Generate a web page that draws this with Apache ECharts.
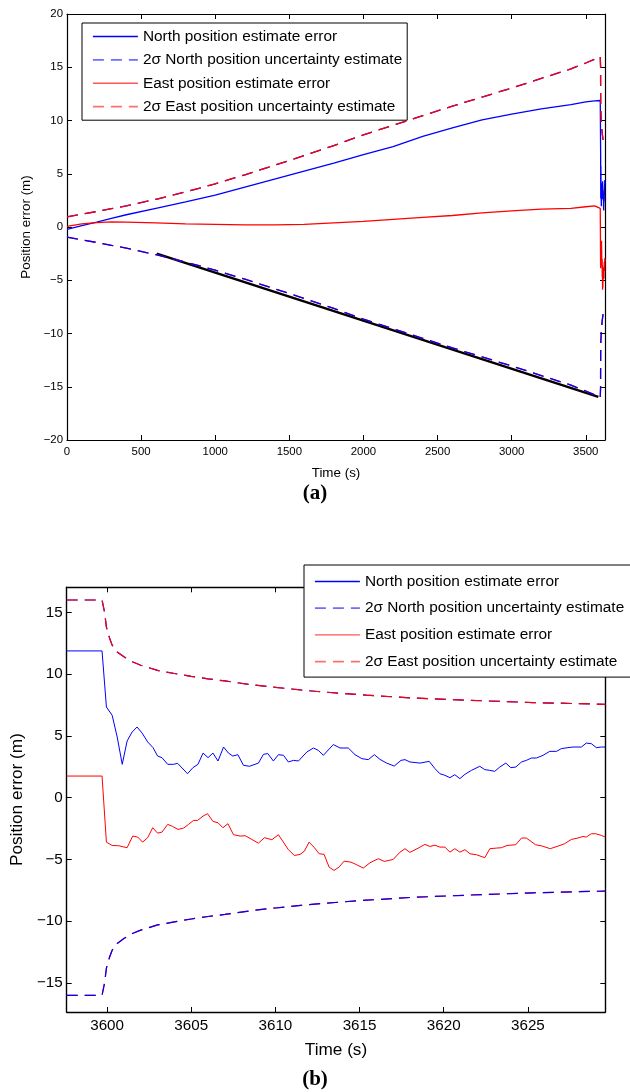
<!DOCTYPE html>
<html>
<head>
<meta charset="utf-8">
<script src="https://cdn.jsdelivr.net/npm/echarts@6/dist/echarts.min.js"></script>
<style>
  html, body { margin: 0; padding: 0; background: #ffffff; }
  #chart { width: 630px; height: 1092px; }
</style>
</head>
<body>
<div id="chart"></div>
<script>
// ---- Full run (0 .. 3600 s), position estimate errors and 2-sigma bounds ----
const longTime  = [0, 100, 200, 300, 400, 600, 800, 1000, 1200, 1400, 1600, 1800, 2000, 2200, 2400, 2600, 2800, 3000, 3200, 3400, 3500, 3560, 3597.6];
const northLong = [-0.22, 0.12, 0.45, 0.8, 1.15, 1.75, 2.35, 3.0, 3.75, 4.5, 5.25, 6.0, 6.8, 7.55, 8.5, 9.3, 10.05, 10.6, 11.1, 11.5, 11.75, 11.85, 11.88];
const eastLong  = [0.05, 0.3, 0.42, 0.48, 0.45, 0.38, 0.3, 0.25, 0.2, 0.2, 0.25, 0.38, 0.52, 0.72, 0.9, 1.08, 1.32, 1.52, 1.68, 1.75, 1.9, 1.98, 1.75];
// North and East 2-sigma uncertainties coincide
const sigmaLong = [0.95, 1.2, 1.45, 1.72, 1.98, 2.6, 3.3, 4.05, 4.9, 5.8, 6.7, 7.65, 8.65, 9.55, 10.45, 11.35, 12.2, 13.05, 13.95, 14.85, 15.4, 15.75, 16.0];

// straight reference line drawn under the lower bound
const driftLine = [[605, -2.5], [3585, -15.95]];

// ---- Last half minute (GNSS back at ~3600 s), [time, value] ----
const northDetail = [
  [3597.6, 11.88], [3599.7, 11.88], [3599.96, 7.34], [3600.3, 6.67], [3600.6, 4.91], [3600.9, 2.70],
  [3601.19, 4.59], [3601.49, 5.32], [3601.78, 5.72], [3602.08, 5.23], [3602.41, 4.51], [3602.73, 4.05],
  [3603.0, 3.37], [3603.26, 3.24], [3603.6, 2.70], [3603.95, 2.70], [3604.19, 2.78], [3604.51, 2.32],
  [3604.78, 1.94], [3605.1, 2.43], [3605.4, 2.70], [3605.7, 3.61], [3606.0, 3.24], [3606.29, 3.61],
  [3606.59, 2.97], [3606.92, 4.10], [3607.21, 3.61], [3607.47, 3.37], [3607.77, 3.48], [3608.1, 2.62],
  [3608.46, 2.54], [3608.99, 2.80], [3609.29, 3.51], [3609.55, 3.57], [3609.88, 2.97], [3610.18, 3.48],
  [3610.48, 3.43], [3610.77, 2.89], [3611.07, 3.02], [3611.37, 2.97], [3611.87, 3.70], [3612.26, 4.02],
  [3612.55, 3.83], [3612.85, 3.43], [3613.44, 4.30], [3613.84, 4.02], [3614.33, 4.02], [3614.73, 3.48],
  [3615.13, 3.16], [3615.52, 3.08], [3615.88, 3.48], [3616.21, 3.10], [3616.61, 2.80], [3617.06, 2.56],
  [3617.46, 3.02], [3617.7, 3.08], [3617.99, 2.89], [3618.59, 2.80], [3619.14, 2.94], [3619.48, 2.35],
  [3619.77, 1.94], [3620.07, 1.81], [3620.37, 1.62], [3620.66, 1.86], [3620.96, 1.54], [3621.26, 1.89],
  [3621.65, 2.21], [3622.14, 2.54], [3622.44, 2.27], [3622.74, 2.21], [3623.03, 2.13], [3623.33, 2.48],
  [3623.69, 2.80], [3623.98, 2.43], [3624.28, 2.48], [3624.62, 2.89], [3624.91, 3.02], [3625.21, 3.21],
  [3625.51, 3.21], [3625.9, 3.43], [3626.3, 3.75], [3626.7, 3.75], [3626.99, 3.97], [3627.38, 4.05],
  [3627.68, 4.10], [3628.18, 4.10], [3628.47, 4.42], [3628.77, 4.37], [3629.07, 4.05], [3629.36, 4.10],
  [3629.6, 4.10]
];
const eastDetail = [
  [3597.6, 1.75], [3599.7, 1.75], [3599.96, -3.60], [3600.3, -3.87], [3600.69, -3.89], [3601.19, -4.05],
  [3601.52, -3.11], [3601.82, -3.19], [3602.11, -3.60], [3602.41, -3.24], [3602.71, -2.43], [3603.0, -2.87],
  [3603.26, -2.79], [3603.6, -2.16], [3603.89, -2.33], [3604.21, -2.57], [3604.55, -2.46], [3604.84, -2.16],
  [3605.14, -1.84], [3605.38, -1.84], [3605.7, -1.49], [3605.97, -1.30], [3606.29, -1.92], [3606.59, -2.03],
  [3606.88, -2.43], [3607.18, -2.11], [3607.51, -3.00], [3607.91, -3.11], [3608.21, -3.08], [3608.6, -3.38],
  [3608.99, -3.68], [3609.35, -3.24], [3609.79, -3.40], [3610.18, -3.00], [3610.77, -4.21], [3611.13, -4.68],
  [3611.47, -4.59], [3611.72, -4.33], [3612.0, -3.60], [3612.32, -4.05], [3612.6, -4.54], [3612.89, -4.59],
  [3613.19, -5.62], [3613.48, -5.89], [3613.78, -5.62], [3614.08, -5.14], [3614.49, -5.22], [3614.83, -5.43],
  [3615.22, -5.70], [3615.62, -5.27], [3616.11, -4.94], [3616.47, -5.16], [3617.0, -5.00], [3617.4, -4.41],
  [3617.7, -4.13], [3617.99, -4.43], [3618.49, -4.08], [3618.88, -3.78], [3619.18, -3.95], [3619.48, -3.85],
  [3619.77, -4.00], [3620.07, -4.00], [3620.37, -4.41], [3620.66, -4.13], [3620.96, -4.41], [3621.26, -4.21],
  [3621.56, -4.54], [3621.95, -4.62], [3622.44, -4.86], [3622.74, -4.13], [3623.14, -4.08], [3623.43, -4.05],
  [3623.76, -3.87], [3624.28, -3.81], [3624.62, -3.27], [3624.91, -3.27], [3625.46, -3.81], [3625.86, -3.92],
  [3626.33, -4.13], [3626.79, -3.92], [3627.18, -3.73], [3627.58, -3.38], [3627.97, -3.27], [3628.27, -3.14],
  [3628.47, -3.19], [3628.77, -2.92], [3629.03, -2.92], [3629.36, -3.05], [3629.6, -3.19]
];
const sigmaDetail = [
  [3597.6, 16.0], [3599.7, 16.0], [3599.85, 15.0], [3599.96, 13.8], [3600.15, 12.9], [3600.3, 12.35],
  [3600.6, 11.8], [3601.0, 11.4], [3601.5, 11.0], [3602.0, 10.72], [3603.0, 10.3], [3604.0, 10.05],
  [3605.0, 9.82], [3606.0, 9.62], [3607.0, 9.45], [3608.7, 9.12], [3610.0, 8.93], [3611.5, 8.72],
  [3612.7, 8.57], [3615.4, 8.3], [3618.0, 8.08], [3621.4, 7.89], [3625.3, 7.7], [3629.6, 7.56]
];

// ---- Axis ticks ----
const topXTicks = [0, 500, 1000, 1500, 2000, 2500, 3000, 3500];
const topYTicks = [-20, -15, -10, -5, 0, 5, 10, 15, 20];
const botXTicks = [3600, 3605, 3610, 3615, 3620, 3625];
const botYTicks = [-15, -10, -5, 0, 5, 10, 15];

const NAMES = [
  'North position estimate error',
  '2\u03c3 North position uncertainty estimate',
  'East position estimate error',
  '2\u03c3 East position uncertainty estimate'
];
const BLUE = '#0000ff', RED = '#ff0000';
const FONT = '"Liberation Sans", Arial, sans-serif';
const DASH = [11, 7];

// long run followed by the detailed tail
function joined(longVals, detail) {
  const pts = longTime.map((t, i) => [t, longVals[i]]);
  const last = longTime[longTime.length - 1];
  detail.forEach(p => { if (p[0] > last) pts.push(p); });
  return pts;
}
const northFull = joined(northLong, northDetail);
const eastFull = joined(eastLong, eastDetail);
const sigmaFull = joined(sigmaLong, sigmaDetail);
const neg = pts => pts.map(p => [p[0], -p[1]]);

const fmt = v => String(v).replace('-', '\u2212');

function axisX(grid, pos, min, max, ticks, showLabels, fontSize, name, gap, lw) {
  return {
    type: 'value', gridIndex: grid, position: pos, min: min, max: max,
    name: name || '', nameLocation: 'middle', nameGap: gap || 0,
    nameTextStyle: { fontFamily: FONT, fontSize: fontSize + 2, color: '#000' },
    axisLine: { show: true, onZero: false, lineStyle: { color: '#000', width: lw } },
    axisTick: { show: true, inside: true, length: 5, customValues: ticks, lineStyle: { color: '#000', width: 1 } },
    axisLabel: { show: showLabels, customValues: ticks, formatter: fmt, margin: 6,
                 fontFamily: FONT, fontSize: fontSize, color: '#000' },
    splitLine: { show: false }
  };
}
function axisY(grid, pos, min, max, ticks, showLabels, fontSize, name, gap, lw) {
  return {
    type: 'value', gridIndex: grid, position: pos, min: min, max: max,
    name: name || '', nameLocation: 'middle', nameGap: gap || 0, nameRotate: 90,
    nameTextStyle: { fontFamily: FONT, fontSize: fontSize + 2, color: '#000' },
    axisLine: { show: true, onZero: false, lineStyle: { color: '#000', width: lw } },
    axisTick: { show: true, inside: true, length: 5, customValues: ticks, lineStyle: { color: '#000', width: 1 } },
    axisLabel: { show: showLabels, customValues: ticks, formatter: fmt, margin: 4,
                 fontFamily: FONT, fontSize: fontSize, color: '#000' },
    splitLine: { show: false }
  };
}

function line(name, data, color, width, dashed, xi, yi, z) {
  return {
    type: 'line', name: name, data: data, xAxisIndex: xi, yAxisIndex: yi,
    symbol: 'none', showSymbol: false, animation: false, z: z,
    lineStyle: { color: color, width: width, type: dashed ? DASH : 'solid' },
    itemStyle: { color: color },
    emphasis: { disabled: true }
  };
}

function legendBlock(left, top, gap, padding) {
  const hidden = c => ({ color: c, opacity: 0, borderWidth: 0 });
  return {
    orient: 'vertical', left: left, top: top, itemWidth: 45, itemHeight: 14, itemGap: gap,
    padding: padding, borderColor: '#000', borderWidth: 1, backgroundColor: '#fff',
    selectedMode: false, z: 10,
    textStyle: { fontFamily: FONT, fontSize: 15.4, color: '#000', lineHeight: 14 },
    data: [
      { name: NAMES[0], itemStyle: hidden(BLUE), lineStyle: { color: BLUE, width: 1.3, type: 'solid', opacity: 1 } },
      { name: NAMES[1], itemStyle: hidden('#6f6fff'), lineStyle: { color: '#6f6fff', width: 1.8, type: DASH, opacity: 1 } },
      { name: NAMES[2], itemStyle: hidden('#ff5555'), lineStyle: { color: '#ff5555', width: 1.4, type: 'solid', opacity: 1 } },
      { name: NAMES[3], itemStyle: hidden('#ff6f6f'), lineStyle: { color: '#ff6f6f', width: 1.8, type: DASH, opacity: 1 } }
    ]
  };
}

const chart = echarts.init(document.getElementById('chart'), null, { renderer: 'canvas' });
chart.setOption({
  animation: false,
  backgroundColor: '#ffffff',
  grid: [
    { left: 67, top: 14, width: 538, height: 426, outerBoundsMode: 'none' },
    { left: 66.7, top: 587.3, width: 538.6, height: 424.7, outerBoundsMode: 'none' }
  ],
  xAxis: [
    axisX(0, 'bottom', 0, 3629.6, topXTicks, true, 11.4, 'Time (s)', 27, 1.2),
    axisX(0, 'top', 0, 3629.6, topXTicks, false, 11.4, '', 0, 1.2),
    axisX(1, 'bottom', 3597.6, 3629.6, botXTicks, true, 15.2, 'Time (s)', 30, 1.4),
    axisX(1, 'top', 3597.6, 3629.6, botXTicks, false, 15.2, '', 0, 1.4)
  ],
  yAxis: [
    axisY(0, 'left', -20, 20, topYTicks, true, 11.4, 'Position error (m)', 25, 1.2),
    axisY(0, 'right', -20, 20, topYTicks, false, 11.4, '', 0, 1.2),
    axisY(1, 'left', -17.35, 17.03, botYTicks, true, 15.2, 'Position error (m)', 38, 1.4),
    axisY(1, 'right', -17.35, 17.03, botYTicks, false, 15.2, '', 0, 1.4)
  ],
  legend: [
    legendBlock(82, 23, 8.4, [6, 5, 6, 10]),
    legendBlock(304, 565, 11.7, [9, 30, 8, 10])
  ],
  series: [
    // full run
    line('driftLine', driftLine, '#000000', 2.6, false, 0, 0, 1),
    line(NAMES[0], northFull, BLUE, 1.3, false, 0, 0, 2),
    line(NAMES[2], eastFull, RED, 1.3, false, 0, 0, 3),
    line(NAMES[1], sigmaFull, BLUE, 1.3, true, 0, 0, 4),
    line(NAMES[3], sigmaFull, RED, 1.3, true, 0, 0, 5),
    line(NAMES[3], neg(sigmaFull), RED, 1.3, true, 0, 0, 4),
    line(NAMES[1], neg(sigmaFull), BLUE, 1.3, true, 0, 0, 5),
    // final 30 s
    line(NAMES[0], northDetail, BLUE, 1, false, 2, 2, 2),
    line(NAMES[2], eastDetail, RED, 1, false, 2, 2, 3),
    line(NAMES[1], sigmaDetail, BLUE, 1.2, true, 2, 2, 4),
    line(NAMES[3], sigmaDetail, RED, 1.2, true, 2, 2, 5),
    line(NAMES[3], neg(sigmaDetail), RED, 1.2, true, 2, 2, 4),
    line(NAMES[1], neg(sigmaDetail), BLUE, 1.2, true, 2, 2, 5)
  ],
  graphic: [
    { type: 'text', left: 'center', top: 483, silent: true,
      style: { text: '(a)', fontFamily: '"Liberation Serif", "Times New Roman", serif', fontWeight: 'bold', fontSize: 21, fill: '#000' },
      x: 4 },
    { type: 'text', left: 'center', top: 1069, silent: true,
      style: { text: '(b)', fontFamily: '"Liberation Serif", "Times New Roman", serif', fontWeight: 'bold', fontSize: 21, fill: '#000' },
      x: 4 }
  ]
});
</script>
</body>
</html>
